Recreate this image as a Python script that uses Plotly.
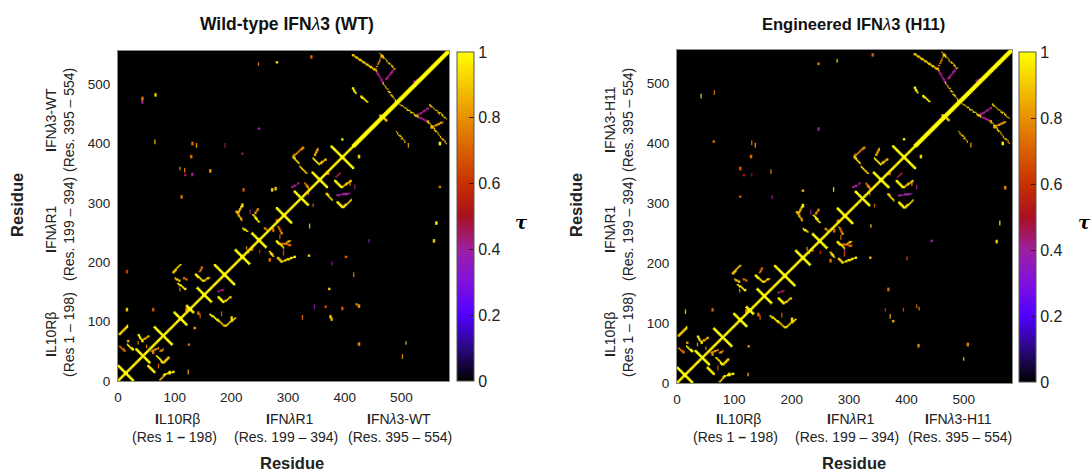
import numpy as np
import plotly.graph_objects as go

TICKS = [0, 100, 200, 300, 400, 500]
CBAR_TICKS = [0, 0.2, 0.4, 0.6, 0.8, 1]
N_RES = 556
X_LABEL_RANGE = 584

# helix crosses on the diagonal: centre residue, half length of the anti-diagonal arm
CROSS_CENTRES = [13, 42, 76, 105, 121, 145, 179, 209, 237, 279, 308, 339, 377]
CROSS_ARMS = [12, 11, 14, 10, 5, 11, 16, 11, 11, 12, 11, 12, 18]

# helix-helix contacts: residue x1, y1, x2, y2, tau
CONTACTS = [
    (2,78,16,92,.9),(34,78,41,67,.97),(16,61,25,53,.97),(41,68,51,75,.85),(65,42,76,30,.97),
    (76,30,85,39,.9),(51,25,61,15,.97),(71,2,79,11,.88),(79,11,93,15,.97),(71,50,76,53,.8),
    (57,50,68,55,.8),(3,58,12,50,.72),(93,183,105,196,.9),(96,173,104,168,.9),(101,164,113,155,.97),
    (111,173,116,171,.7),(131,179,143,168,.98),(143,168,153,174,.9),(137,184,142,192,.72),
    (169,141,178,132,.98),(180,134,189,141,.9),(169,151,177,154,.45),(155,112,167,103,.98),
    (167,103,180,92,.88),(180,92,197,106,.92),(203,285,209,296,.88),(199,285,208,271,.85),
    (210,257,217,252,.97),(227,280,237,268,.98),(230,282,236,290,.8),(255,218,261,210,.94),
    (267,235,278,225,.97),(269,207,275,201,.88),(275,201,297,209,.94),(269,260,275,249,.72),
    (272,232,289,229,.7),(282,232,289,236,.88),(294,378,311,393,.78),(294,378,304,367,.92),
    (328,375,338,365,.98),(331,381,336,392,.85),(338,365,349,373,.88),(306,361,317,350,.9),
    (364,338,376,326,.98),(376,326,392,338,.88),(367,344,373,350,.45),(350,316,360,305,.92),
    (368,302,378,292,.98),(378,292,392,305,.92),(368,313,390,316,.4),(292,327,300,330,.42),
    (314,333,322,323,.78),(395,493,400,484,.97),(409,479,419,470,.97),(440,448,451,439,.88),
    (496,504,507,509,.42),
]
# dotted helix contacts of the interferon chain
DOTTED = [
    (395,549,434,523,.9),(434,526,443,549,.78),(440,552,465,526,.9),(468,470,504,445,.93),
    (524,465,552,442,.9),(521,437,552,400,.88),(468,420,482,403,.9),(446,501,468,470,.9),
]
IFN_LOOPS = [
    (434,523,446,501,.42),(465,526,451,509,.42),(504,445,521,437,.42),(504,448,521,459,.42),
    (527,428,546,436,.82),
]
SPOTS_SHARED = [
    (16,92,.98),(191,106,.95),(209,296,.98),(222,285,.4),(247,257,.78),(275,249,.82),(278,222,.38),
    (297,209,.98),(377,407,.97),(405,378,.92),(527,428,.88),(541,400,.98),(488,397,.85),
    (17,67,.85),(34,64,.78),(48,58,.78),(59,47,.78),(68,25,.7),(87,14,.97),(104,154,.8),(115,120,.78),
    (135,114,.72),(138,109,.7),(174,113,.7),(216,224,.8),(225,221,.72),(220,218,.75),(238,218,.6),
    (250,254,.75),(261,254,.72),(272,243,.72),(267,271,.7),(278,215,.65),(255,204,.75),
    (320,316,.7),(303,333,.42),(328,296,.72),(353,350,.75),(390,333,.82),(398,327,.42),
]
SPOTS_WT = [
    (41,476,.75),(41,470,.42),(63,482,.9),(62,403,.9),(125,400,.72),(132,397,.85),(123,378,.72),
    (104,358,.82),(112,355,.78),(155,354,.82),(113,347,.45),(125,348,.42),(107,310,.75),(211,322,.68),
    (259,322,.93),(265,324,.9),(267,537,.95),(236,534,.78),(237,425,.37),(209,383,.45),(180,397,.45),
    (325,546,.72),(541,327,.75),(14.6,120,.88),(14.6,184,.62),(118,15,.85),(119,61,.72),(129,89,.82),
    (59,120,.68),(535,266,.97),(531,236,.9),(422,236,.36),(322,261,.9),(321,211,.9),(383,209,.68),
    (360,198,.4),(396,179,.75),(355,155,.9),(401,129,.75),(405,126,.82),(377,122,.68),(349,125,.68),
    (330,125,.35),(357,108,.9),(359,104,.85),(310,107,.72),(484,64,.92),(478,41,.8),(405,62,.78),
]
SPOTS_H11 = [
    (40,479,.93),(62,485,.75),(61,403,.75),(124,401,.75),(130,397,.85),(123,378,.72),(105,358,.68),
    (111,347,.5),(124,348,.5),(156,353,.78),(105,311,.68),(158,310,.4),(209,321,.88),(260,323,.94),
    (266,538,.95),(235,533,.78),(325,548,.68),(235,424,.4),(322,262,.93),(321,209,.9),(382,208,.68),
    (351,156,.72),(398,128,.75),(402,124,.78),(376,122,.68),(346,122,.62),(354,111,.85),(359,103,.85),
    (401,62,.76),(483,64,.76),(476,40,.9),(119,61,.82),(118,14,.9),(423,237,.4),(536,267,.97),
    (531,236,.9),(545,326,.78),(14,119,.85),(59,122,.7),
]
COLORS = [
    [0, "#000000"], [.1, "#2a0880"], [.2, "#5000ff"], [.3, "#8010e0"], [.4, "#9c20a0"], [.5, "#a81020"],
    [.6, "#c83000"], [.7, "#d86000"], [.8, "#e89000"], [.9, "#f5c800"], [1, "#ffff00"],
]

GRID = np.arange(0, N_RES + 2, 2.0)
XX, YY = np.meshgrid(GRID, GRID)


def stamp(z, x1, y1, x2, y2, tau, half):
    dx, dy = x2 - x1, y2 - y1
    ll = dx * dx + dy * dy
    t = np.zeros_like(XX) if ll == 0 else np.clip(((XX - x1) * dx + (YY - y1) * dy) / ll, 0, 1)
    d = np.hypot(XX - x1 - t * dx, YY - y1 - t * dy)
    z[d <= half] = np.maximum(z[d <= half], tau)


def contact_map(spots):
    z = np.zeros_like(XX)
    stamp(z, 0, 0, 395, 395, .97, 1.5)
    stamp(z, 395, 395, N_RES, N_RES, 1, 3.0)
    for c, a in zip(CROSS_CENTRES, CROSS_ARMS):
        stamp(z, c - a, c + a, c + a, c - a, 1, 2.2)
    for x1, y1, x2, y2, tau in CONTACTS + IFN_LOOPS:
        stamp(z, x1, y1, x2, y2, tau, 1.7)
    for x1, y1, x2, y2, tau in DOTTED:
        n = int(np.hypot(x2 - x1, y2 - y1) / 3.6)
        for k in range(n + 1):
            xc = x1 + (x2 - x1) * k / max(n, 1)
            yc = y1 + (y2 - y1) * k / max(n, 1)
            stamp(z, xc, yc, xc, yc, tau, 1.6)
    for x, y, tau in spots + SPOTS_SHARED:
        stamp(z, x, y - 1.5, x, y + 1.5, tau, 1.5)
    return z


W, H = 1091, 471
px = lambda x: x / W
py = lambda y: 1 - y / H
FONT = "Liberation Sans"
fig = go.Figure()
annotations = []
shapes = []


def note(x, y, text, size=14, angle=0, color="#222222", family=FONT):
    annotations.append(dict(x=px(x), y=py(y), xref="paper", yref="paper", text=text, showarrow=False,
                            textangle=angle, font=dict(family=family, size=size, color=color),
                            xanchor="center", yanchor="middle"))


PANELS = [
    dict(ax="", L=118, R=449, T=51, B=381, cL=457, cT=52, cB=381, spots=SPOTS_WT, chain="IFN<i>λ</i>3-WT",
         title="<b>Wild-type IFN</b><i>λ</i><b>3 (WT)</b>", tx=287, tsize=17.5, rx=292,
         bottom=[(177, 174, 290, 286, 399, 400)], tauoff=64),
    dict(ax="2", L=677, R=1012, T=50, B=383, cL=1019, cT=52, cB=382, spots=SPOTS_H11, chain="IFN<i>λ</i>3-H11",
         title="<b>Engineered IFN</b><i>λ</i><b>3 (H11)</b>", tx=853, tsize=16.5, rx=854,
         bottom=[(738, 735, 851, 847, 958, 960)], tauoff=65),
]
for p in PANELS:
    z = contact_map(p["spots"])
    xname, yname = "x" + p["ax"], "y" + p["ax"]
    fig.add_trace(go.Heatmap(
        x=GRID * X_LABEL_RANGE / N_RES, y=GRID, z=z, zmin=0, zmax=1, zsmooth="fast", colorscale=COLORS,
        xaxis=xname, yaxis=yname,
        colorbar=dict(x=px(p["cL"]), xanchor="left", y=py(p["cB"]), yanchor="bottom", len=(p["cB"] - p["cT"]) / H,
                      thickness=17, thicknessmode="pixels", xpad=0, ypad=0, tickvals=CBAR_TICKS,
                      ticktext=[f"{t:g}" for t in CBAR_TICKS], ticks="inside", ticklen=5, tickcolor="#401010",
                      tickfont=dict(family=FONT, size=16, color="#222222"), outlinecolor="#555555", outlinewidth=1),
    ))
    common = dict(showgrid=False, zeroline=False, showline=True, mirror=True, linecolor="#8a8a8a", linewidth=1,
                  ticks="", tickvals=TICKS, tickfont=dict(family=FONT, size=13.5, color="#222222"))
    fig.update_layout({
        "xaxis" + p["ax"]: dict(domain=[px(p["L"]), px(p["R"])], range=[0, X_LABEL_RANGE], anchor=yname, ticklabelstandoff=4, **common),
        "yaxis" + p["ax"]: dict(domain=[py(p["B"]), py(p["T"])], range=[0, N_RES], anchor=xname, ticklabelstandoff=4, **common),
    })
    for t in CBAR_TICKS[1:-1]:
        yc = p["cB"] - t * (p["cB"] - p["cT"])
        shapes.append(dict(type="line", xref="paper", yref="paper", x0=px(p["cL"]), x1=px(p["cL"] + 5),
                           y0=py(yc), y1=py(yc), line=dict(color="#401010", width=1)))
    off = p["L"] - 118
    note(p["tx"], 24, p["title"], p["tsize"], color="#111111")
    note(p["rx"], 463, "<b>Residue</b>", 16.5)
    note(17 + off, 205, "<b>Residue</b>", 16.5, -90)
    note(p["cL"] + p["tauoff"], 222, "<b><i>τ</i></b>", 18, color="#000000", family="DejaVu Serif")
    c1, c2, c3, c4, c5, c6 = p["bottom"][0]
    for cx1, cx2, line1, line2 in [(c1, c2, "<b>I</b>L10Rβ", "(Res 1 <b>–</b> 198)"),
                                   (c3, c4, "<b>I</b>FN<i>λ</i>R1", "(Res. 199 – 394)"),
                                   (c5, c6, "<b>I</b>" + p["chain"][1:], "(Res. 395 – 554)")]:
        note(cx1, 419, line1)
        note(cx2, 437, line2)
    for cy, line1, line2 in [(335, "<b>I</b>L10Rβ", "(Res 1 – 198)"),
                             (229, "<b>I</b>FN<i>λ</i>R1", "(Res. 199 – 394)"),
                             (120, "<b>I</b>" + p["chain"][1:], "(Res. 395 – 554)")]:
        note(51 + off, cy, line1, angle=-90)
        note(69 + off, cy, line2, angle=-90)

fig.update_layout(width=W, height=H, margin=dict(l=0, r=0, t=0, b=0, autoexpand=False), paper_bgcolor="white", plot_bgcolor="black",
                  annotations=annotations, shapes=shapes, showlegend=False)
fig.write_html("out.html", config={"displayModeBar": False}, post_script="document.body.style.margin='0';")
